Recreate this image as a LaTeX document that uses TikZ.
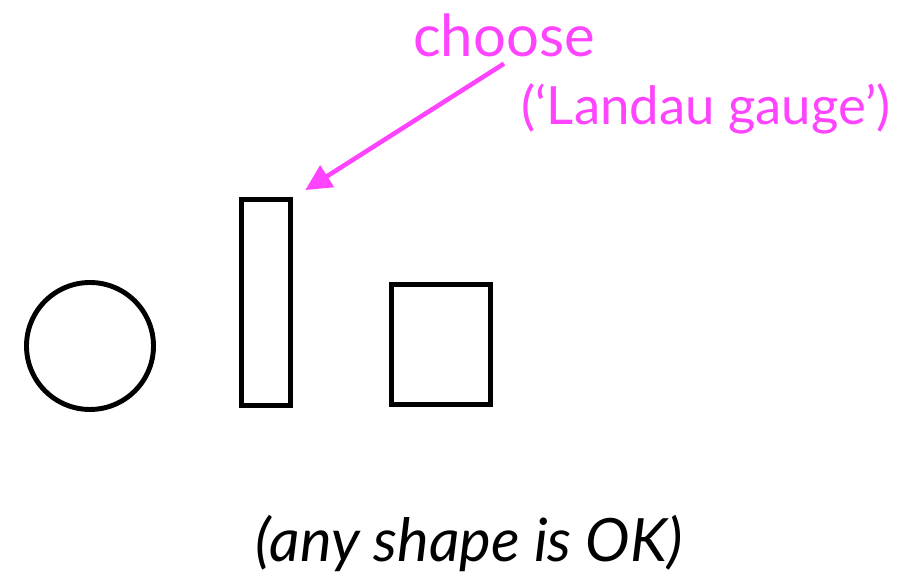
\documentclass[tikz,border=0pt]{standalone}
\usepackage{fontspec}
\setmainfont{Lato}
\usetikzlibrary{arrows.meta}
\definecolor{rosa}{RGB}{255,68,255}
\begin{document}
\begin{tikzpicture}[x=1cm,y=1cm,
  forma/.style={draw,line width=2.8pt,inner sep=0pt,outer sep=0pt},
  rotulo/.style={text=rosa,font=\fontsize{33}{40}\selectfont,anchor=base},
  seta/.style={draw=rosa,line width=2.6pt,-{Triangle[length=.52cm,width=.5cm]}}]
  \useasboundingbox (0,0) rectangle (17.94,11.52);
  \node[forma,circle,minimum size=2.54cm] (circulo) at (1.80,4.60) {};
  \node[forma,rectangle,minimum width=.98cm,minimum height=4.12cm] (barra) at (5.32,5.47) {};
  \node[forma,rectangle,minimum width=1.98cm,minimum height=2.40cm] (quadrado) at (8.82,4.63) {};
  \node[rotulo] (escolha) at (10.08,10.38) {choose};
  \node[rotulo,font=\fontsize{30}{36}\selectfont] (gauge) at (14.12,9.02) {(‘Landau gauge’)};
  \node[anchor=base,font=\fontsize{34}{40}\selectfont\itshape] (legenda) at (9.38,0.28) {(any shape is OK)};
  \draw[seta,shorten >=.35cm] (escolha.south) -- (barra.north east);
\end{tikzpicture}
\end{document}
